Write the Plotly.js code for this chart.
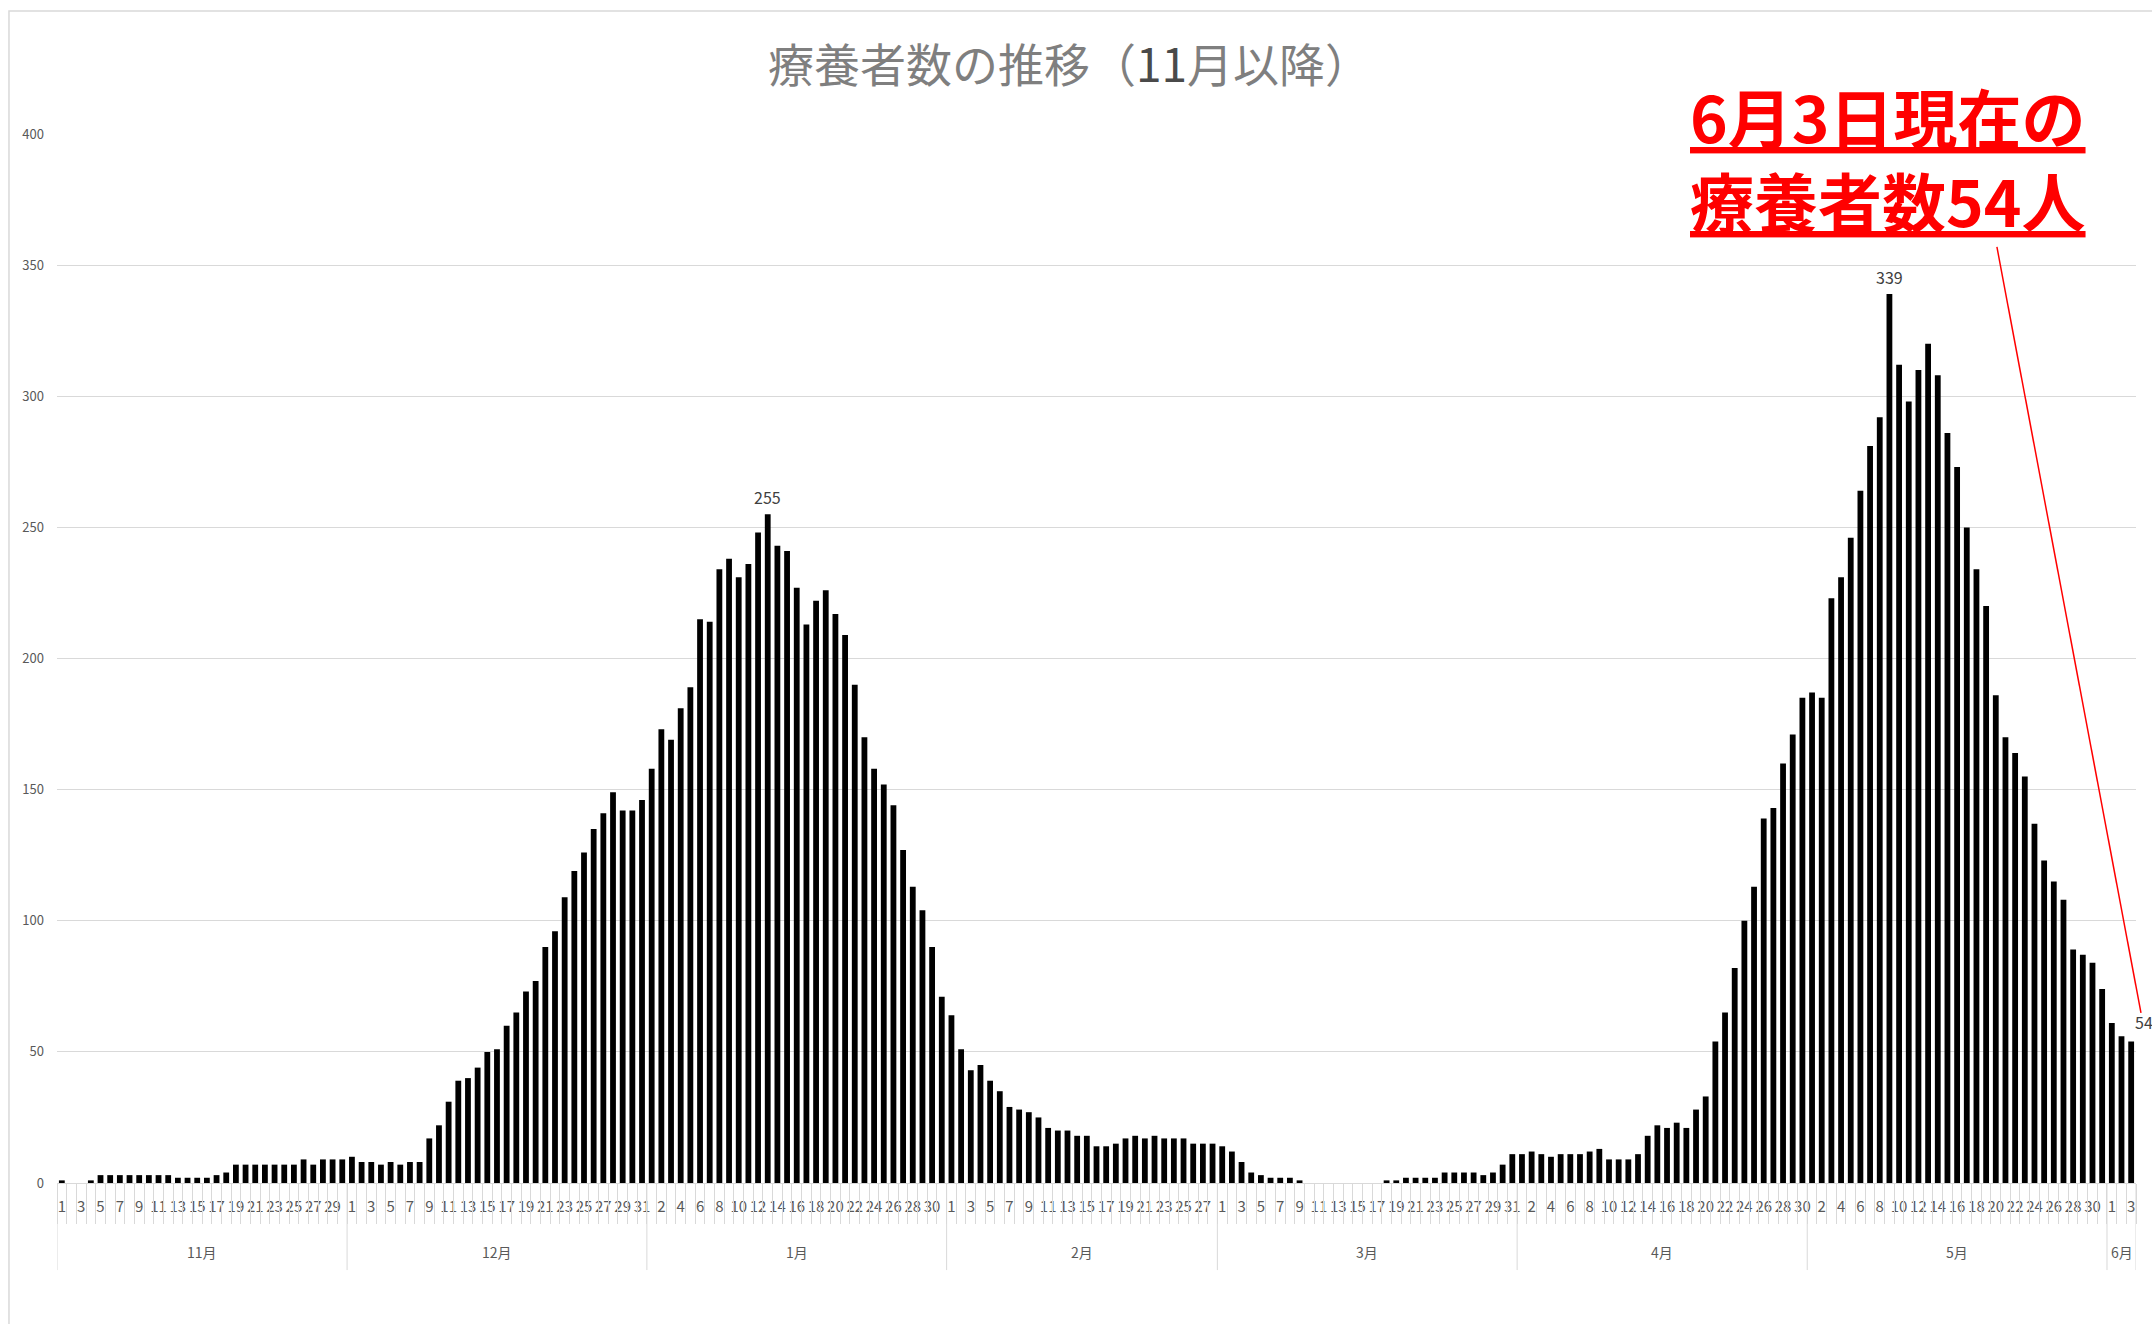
<!DOCTYPE html>
<html>
<head>
<meta charset="utf-8">
<script src="https://cdn.plot.ly/plotly-3.0.1.min.js"></script>
<style>
html,body{margin:0;padding:0;background:#ffffff;}
#chart{width:2152px;height:1324px;}
</style>
</head>
<body>
<div id="chart"></div>
<script>
// ---- data ----
const months = ['11月','12月','1月','2月','3月','4月','5月','6月'];
const nov = [1,0,0,1,3,3,3,3,3,3,3,3,2,2,2,2,3,4,7,7,7,7,7,7,7,9,7,9,9,9];
const dec = [10,8,8,7,8,7,8,8,17,22,31,39,40,44,50,51,60,65,73,77,90,96,109,119,126,135,141,149,142,142,146];
const jan = [158,173,169,181,189,215,214,234,238,231,236,248,255,243,241,227,213,222,226,217,209,190,170,158,152,144,127,113,104,90,71];
const feb = [64,51,43,45,39,35,29,28,27,25,21,20,20,18,18,14,14,15,17,18,17,18,17,17,17,15,15,15];
const mar = [14,12,8,4,3,2,2,2,1,0,0,0,0,0,0,0,0,1,1,2,2,2,2,4,4,4,4,3,4,7,11];
const apr = [11,12,11,10,11,11,11,12,13,9,9,9,11,18,22,21,23,21,28,33,54,65,82,100,113,139,143,160,171,185];
const may = [187,185,223,231,246,264,281,292,339,312,298,310,320,308,286,273,250,234,220,186,170,164,155,137,123,115,108,89,87,84,74];
const jun = [61,56,54];
const yTicks = [0,50,100,150,200,250,300,350,400];
const chartTitle = '療養者数の推移（<span style="color:#4a4a4a">11</span>月以降）';

// ---- build series ----
const monthValues = [nov, dec, jan, feb, mar, apr, may, jun];
const xs = [], ys = [], dayNum = [], monthStart = [];
monthValues.forEach((arr, mi) => {
  monthStart.push(xs.length);
  arr.forEach((v, di) => { xs.push(xs.length); ys.push(v); dayNum.push(di + 1); });
});
const n = xs.length;
const tickvals = xs.filter(i => i % 2 === 0);
const ticktext = tickvals.map(i => String(dayNum[i]));
const boundaries = [];
for (let i = 0; i <= n; i++) boundaries.push(i - 0.5);
const monthBounds = monthStart.map(s => s - 0.5).concat([n - 0.5]);

// peaks
const marStart = monthStart[4];
let p1 = 0; for (let i = 0; i < marStart; i++) if (ys[i] > ys[p1]) p1 = i;
let p2 = 0; for (let i = 0; i < n; i++) if (ys[i] > ys[p2]) p2 = i;
const last = n - 1;

const FONT = 'Noto Sans CJK JP, Noto Sans, sans-serif';
const grid = '#d9d9d9';

const shapes = [];
monthBounds.forEach(b => shapes.push({type:'line', xref:'x', yref:'paper', x0:b, x1:b, y0:0, y1:-0.083, line:{color:grid, width:1}}));
// outer frame
shapes.push({type:'rect', xref:'paper', yref:'paper', x0:-0.0231, x1:1.03, y0:-0.16, y1:1.1173, line:{color:grid, width:1.5}, fillcolor:'rgba(0,0,0,0)', layer:'below'});
// red leader line
shapes.push({type:'line', xref:'paper', yref:'paper', x0:0.9331, y0:0.8923, x1:1.0024, y1:0.1621, line:{color:'#ff0000', width:1.5}});

const annotations = [];
monthValues.forEach((arr, mi) => {
  const s = monthStart[mi];
  annotations.push({x:(s + s + arr.length - 1) / 2, xref:'x', y:-0.066, yref:'paper', text:months[mi], showarrow:false,
    font:{family:FONT, size:14, color:'#595959'}, xanchor:'center', yanchor:'middle'});
});
[p1, p2].forEach(i => annotations.push({x:i, y:ys[i], xref:'x', yref:'y', text:String(ys[i]), showarrow:false,
  yanchor:'bottom', yshift:3, font:{family:FONT, size:16, color:'#404040'}}));
annotations.push({x:last, y:ys[last], xref:'x', yref:'y', text:String(ys[last]), showarrow:false,
  xanchor:'left', yanchor:'middle', xshift:2, yshift:19, font:{family:FONT, size:16, color:'#404040'}});
const redFont = {family:FONT, size:64, color:'#ff0000', weight:700, lineposition:'under'};
annotations.push({x:0.8807, y:1.018, xref:'paper', yref:'paper', xanchor:'center', yanchor:'middle', showarrow:false,
  text: months[months.length-1] + dayNum[last] + '日現在の', font:redFont});
annotations.push({x:0.8807, y:0.938, xref:'paper', yref:'paper', xanchor:'center', yanchor:'middle', showarrow:false,
  text: '療養者数' + ys[last] + '人', font:redFont});

const traces = [
  {type:'bar', x:xs, y:ys, marker:{color:'#000000', line:{width:0}}, hoverinfo:'skip', xaxis:'x', yaxis:'y'},
  {type:'scatter', x:[], y:[], xaxis:'x2', yaxis:'y', hoverinfo:'skip', showlegend:false}
];

const layout = {
  width:2152, height:1324,
  margin:{l:57, r:16, t:134, b:141},
  paper_bgcolor:'#ffffff', plot_bgcolor:'#ffffff',
  showlegend:false, bargap:0.4, hovermode:false,
  font:{family:FONT, color:'#595959'},
  title:{text:chartTitle, font:{family:FONT, size:46, color:'#7f7f7f'}, xref:'paper', x:0.487, xanchor:'center', yref:'container', y:0.95, yanchor:'middle'},
  xaxis:{range:[-0.5, n - 0.5], tickmode:'array', tickvals:tickvals, ticktext:ticktext, tickangle:0, ticks:'',
    tickfont:{family:FONT, size:15, color:'#595959'}, showgrid:false, zeroline:false, showline:true, linecolor:grid, linewidth:1,
    ticklabelstandoff:10, fixedrange:true},
  xaxis2:{overlaying:'x', anchor:'y', side:'bottom', matches:'x', range:[-0.5, n - 0.5], tickmode:'array', tickvals:boundaries,
    ticks:'outside', ticklen:40, tickcolor:grid, tickwidth:1, showticklabels:false, showgrid:false, zeroline:false, showline:false},
  yaxis:{range:[0, 400], tickmode:'array', tickvals:yTicks, ticks:'', showgrid:true, gridcolor:grid, gridwidth:1, zeroline:false,
    showline:false, tickfont:{family:FONT, size:13, color:'#595959'}, ticklabelstandoff:12, fixedrange:true},
  shapes:shapes, annotations:annotations
};

Plotly.newPlot('chart', traces, layout, {displayModeBar:false, staticPlot:true});
</script>
</body>
</html>
